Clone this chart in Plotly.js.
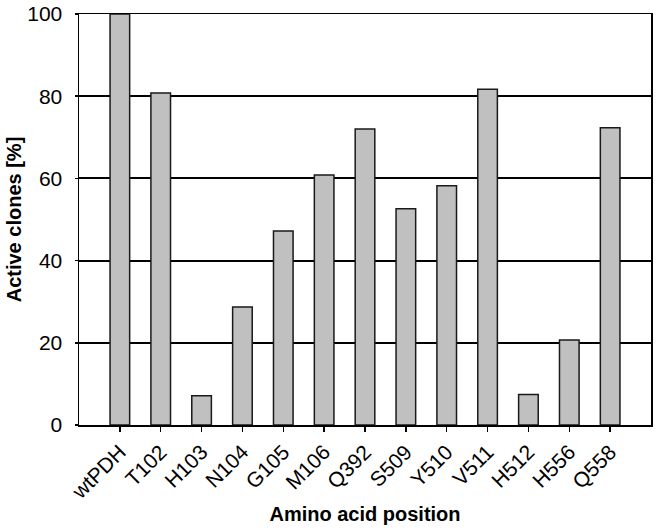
<!DOCTYPE html>
<html>
<head>
<meta charset="utf-8">
<script src="https://cdn.plot.ly/plotly-3.0.1.min.js"></script>
<style>
  body { margin: 0; padding: 0; background: #fff; }
  #chart { width: 658px; height: 529px; }
</style>
</head>
<body>
<div id="chart"></div>
<script>
// Amino acid positions and share of active clones (%)
const positions = ['wtPDH', 'T102', 'H103', 'N104', 'G105', 'M106', 'Q392',
                   'S509', 'Y510', 'V511', 'H512', 'H556', 'Q558'];
const activeClones = [100, 80.8, 7.1, 28.7, 47.2, 60.8, 72.0,
                      52.6, 58.2, 81.7, 7.4, 20.7, 72.3];
const yTicks = [0, 20, 40, 60, 80, 100];

const font = 'Arial, "Liberation Sans", sans-serif';

const barTrace = {
    x: positions,
    y: activeClones,
    type: 'bar',
    width: 0.48,
    marker: {
        color: '#c0c0c0',
        line: { color: '#1a1a1a', width: 1.5 }
    },
    hoverinfo: 'x+y'
};

const layout = {
    width: 658,
    height: 529,
    margin: { l: 79, r: 7, t: 14, b: 104 },
    paper_bgcolor: '#fff',
    plot_bgcolor: '#fff',
    showlegend: false,
    font: { family: font, color: '#000', size: 21 },
    xaxis: {
        type: 'category',
        range: [-1, 13],
        tickangle: -45,
        ticks: 'outside',
        ticklen: 5,
        tickwidth: 1.5,
        tickcolor: '#000',
        showline: true,
        linecolor: '#000',
        linewidth: 1.5,
        mirror: true,
        showgrid: false,
        automargin: false,
        tickfont: { size: 21 },
        title: { text: '<b>Amino acid position</b>', font: { size: 20 }, standoff: 4 }
    },
    yaxis: {
        range: [0, 100],
        tickvals: yTicks,
        ticks: 'outside',
        ticklen: 3,
        tickwidth: 1.5,
        tickcolor: '#000',
        showline: true,
        linecolor: '#000',
        linewidth: 1.5,
        mirror: true,
        showgrid: true,
        gridcolor: '#000',
        gridwidth: 2,
        zeroline: false,
        automargin: false,
        ticklabelstandoff: 8,
        tickfont: { size: 21 },
        title: { text: '<b>Active clones [%]</b>', font: { size: 20 }, standoff: 0 }
    }
};

Plotly.newPlot('chart', [barTrace], layout, { displayModeBar: false, staticPlot: true });
</script>
</body>
</html>
